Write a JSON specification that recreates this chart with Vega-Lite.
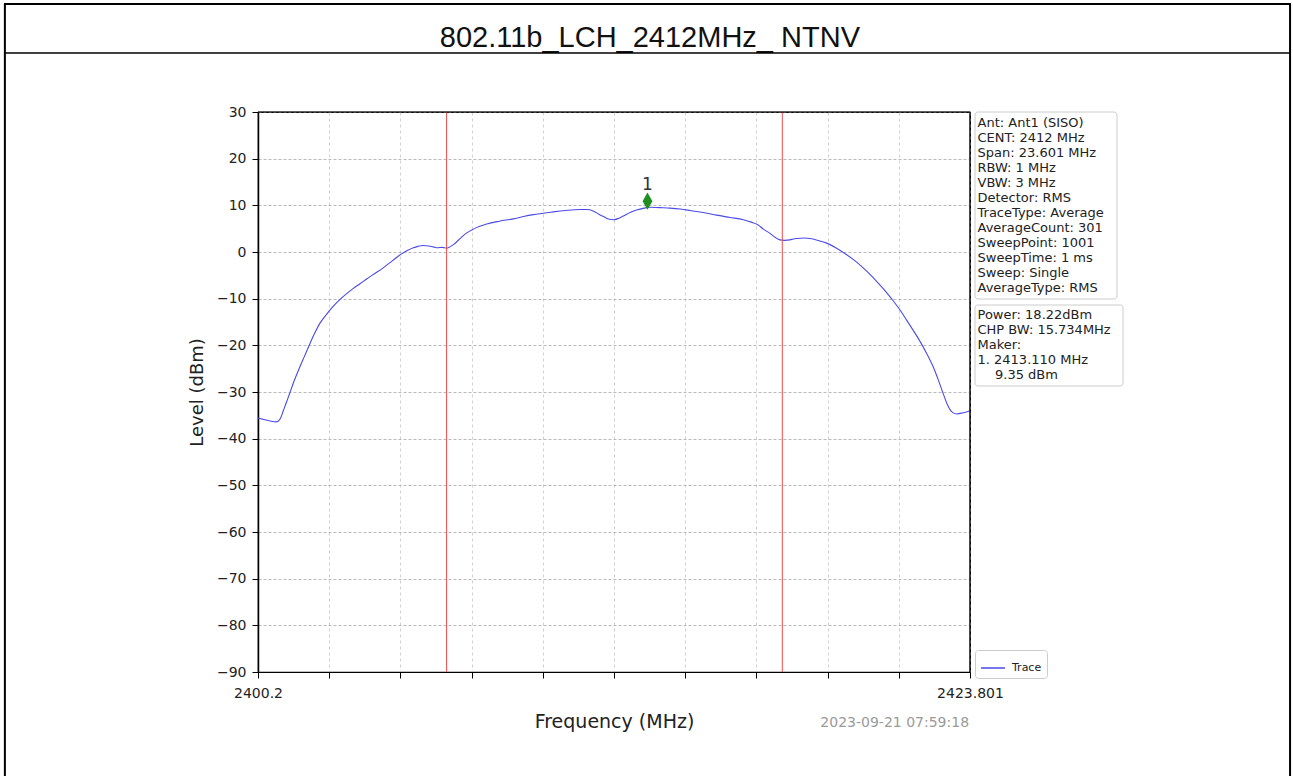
{
  "$schema": "https://vega.github.io/schema/vega-lite/v6.json",
  "autosize": {"type": "none"},
  "width": 712,
  "height": 560,
  "padding": {"left": 258, "top": 112, "right": 323, "bottom": 104},
  "background": "white",
  "data": {"values": [{}]},
  "config": {
    "view": {"stroke": "#000000", "strokeWidth": 1.2},
    "axis": {
      "labelFont": "DejaVu Sans",
      "titleFont": "DejaVu Sans",
      "labelColor": "#222222",
      "titleColor": "#222222",
      "titleFontWeight": "normal",
      "domainColor": "#000000",
      "tickColor": "#000000",
      "tickSize": 6
    }
  },
  "datasets": {
    "trace": [
      {"freq": 2400.20, "level": -35.6},
      {"freq": 2400.40, "level": -35.9},
      {"freq": 2400.60, "level": -36.2},
      {"freq": 2400.80, "level": -36.4},
      {"freq": 2400.93, "level": -35.8},
      {"freq": 2401.05, "level": -33.8},
      {"freq": 2401.15, "level": -32.1},
      {"freq": 2401.26, "level": -30.1},
      {"freq": 2401.40, "level": -27.6},
      {"freq": 2401.59, "level": -24.6},
      {"freq": 2401.75, "level": -22.2},
      {"freq": 2401.87, "level": -20.4},
      {"freq": 2402.05, "level": -17.8},
      {"freq": 2402.25, "level": -15.3},
      {"freq": 2402.42, "level": -13.8},
      {"freq": 2402.59, "level": -12.4},
      {"freq": 2402.80, "level": -10.9},
      {"freq": 2403.03, "level": -9.5},
      {"freq": 2403.20, "level": -8.6},
      {"freq": 2403.36, "level": -7.8},
      {"freq": 2403.58, "level": -6.8},
      {"freq": 2403.80, "level": -5.8},
      {"freq": 2404.05, "level": -4.7},
      {"freq": 2404.35, "level": -3.4},
      {"freq": 2404.65, "level": -1.9},
      {"freq": 2404.96, "level": -0.4},
      {"freq": 2405.15, "level": 0.3},
      {"freq": 2405.35, "level": 0.9},
      {"freq": 2405.50, "level": 1.2},
      {"freq": 2405.68, "level": 1.4},
      {"freq": 2405.85, "level": 1.3},
      {"freq": 2406.01, "level": 1.1},
      {"freq": 2406.15, "level": 0.9},
      {"freq": 2406.30, "level": 1.0},
      {"freq": 2406.45, "level": 0.8},
      {"freq": 2406.56, "level": 1.1},
      {"freq": 2406.70, "level": 1.7},
      {"freq": 2406.79, "level": 2.2},
      {"freq": 2406.95, "level": 3.2},
      {"freq": 2407.12, "level": 4.1},
      {"freq": 2407.34, "level": 4.9},
      {"freq": 2407.55, "level": 5.5},
      {"freq": 2407.78, "level": 6.0},
      {"freq": 2408.20, "level": 6.6},
      {"freq": 2408.66, "level": 7.1},
      {"freq": 2409.00, "level": 7.6},
      {"freq": 2409.33, "level": 8.0},
      {"freq": 2409.66, "level": 8.3},
      {"freq": 2409.99, "level": 8.6},
      {"freq": 2410.40, "level": 8.9},
      {"freq": 2410.87, "level": 9.1},
      {"freq": 2411.10, "level": 9.1},
      {"freq": 2411.31, "level": 8.8},
      {"freq": 2411.50, "level": 8.1},
      {"freq": 2411.65, "level": 7.6},
      {"freq": 2411.85, "level": 7.0},
      {"freq": 2411.98, "level": 6.9},
      {"freq": 2412.15, "level": 7.2},
      {"freq": 2412.31, "level": 7.7},
      {"freq": 2412.55, "level": 8.5},
      {"freq": 2412.75, "level": 9.0},
      {"freq": 2413.00, "level": 9.4},
      {"freq": 2413.19, "level": 9.6},
      {"freq": 2413.50, "level": 9.5},
      {"freq": 2413.86, "level": 9.4},
      {"freq": 2414.20, "level": 9.2},
      {"freq": 2414.52, "level": 8.9},
      {"freq": 2415.00, "level": 8.4},
      {"freq": 2415.40, "level": 7.9},
      {"freq": 2415.85, "level": 7.4},
      {"freq": 2416.29, "level": 6.9},
      {"freq": 2416.55, "level": 6.4},
      {"freq": 2416.78, "level": 5.8},
      {"freq": 2416.95, "level": 4.9},
      {"freq": 2417.17, "level": 4.0},
      {"freq": 2417.35, "level": 3.1},
      {"freq": 2417.50, "level": 2.6},
      {"freq": 2417.65, "level": 2.5},
      {"freq": 2417.83, "level": 2.6},
      {"freq": 2417.95, "level": 2.8},
      {"freq": 2418.06, "level": 2.9},
      {"freq": 2418.30, "level": 3.0},
      {"freq": 2418.50, "level": 2.9},
      {"freq": 2418.80, "level": 2.4},
      {"freq": 2419.05, "level": 1.9},
      {"freq": 2419.35, "level": 0.9},
      {"freq": 2419.60, "level": -0.1},
      {"freq": 2419.95, "level": -1.7},
      {"freq": 2420.26, "level": -3.4},
      {"freq": 2420.55, "level": -5.2},
      {"freq": 2420.82, "level": -7.1},
      {"freq": 2421.05, "level": -8.8},
      {"freq": 2421.26, "level": -10.5},
      {"freq": 2421.50, "level": -12.6},
      {"freq": 2421.70, "level": -14.6},
      {"freq": 2421.92, "level": -16.8},
      {"freq": 2422.14, "level": -19.1},
      {"freq": 2422.36, "level": -21.7},
      {"freq": 2422.58, "level": -24.6},
      {"freq": 2422.75, "level": -27.4},
      {"freq": 2422.91, "level": -30.3},
      {"freq": 2423.05, "level": -32.7},
      {"freq": 2423.19, "level": -34.2},
      {"freq": 2423.36, "level": -34.7},
      {"freq": 2423.55, "level": -34.5},
      {"freq": 2423.80, "level": -34.0}
    ],
    "edges": [
      {"freq": 2406.45},
      {"freq": 2417.58}
    ]
  },
  "layer": [
    {
      "data": {"name": "trace"},
      "mark": {"type": "line", "strokeWidth": 1.1, "interpolate": "monotone"},
      "encoding": {
        "x": {
          "field": "freq",
          "type": "quantitative",
          "scale": {"domain": [2400.2, 2423.801], "nice": false, "zero": false},
          "axis": {
            "title": "Frequency (MHz)",
            "titleFontSize": 19,
            "titleBaseline": "alphabetic",
            "titleY": 55,
            "titleX": 356,
            "values": [2400.2, 2402.5601, 2404.9202, 2407.2803, 2409.6404, 2412.0005, 2414.3606, 2416.7207, 2419.0808, 2421.4409, 2423.801],
            "labelExpr": "datum.value < 2400.3 ? '2400.2' : (datum.value > 2423.7 ? '2423.801' : '')",
            "labelFlush": false,
            "labelOverlap": false,
            "labelBound": false,
            "labelFontSize": 14,
            "labelPadding": 8,
            "grid": true,
            "gridColor": "#c4c4c4",
            "gridDash": [3, 3],
            "gridWidth": 0.8,
            "domainWidth": 1.2
          }
        },
        "y": {
          "field": "level",
          "type": "quantitative",
          "scale": {"domain": [-90, 30], "nice": false, "zero": false},
          "axis": {
            "title": "Level (dBm)",
            "titleFontSize": 18,
            "titleBaseline": "alphabetic",
            "titleAngle": 270,
            "titleAlign": "center",
            "titleX": -56,
            "titleY": 280,
            "values": [-90, -80, -70, -60, -50, -40, -30, -20, -10, 0, 10, 20, 30],
            "labelFontSize": 14,
            "labelPadding": 6,
            "grid": true,
            "gridColor": "#a8a8a8",
            "gridDash": [3, 2],
            "gridWidth": 0.8,
            "domainWidth": 1.5
          }
        },
        "color": {
          "datum": "Trace",
          "type": "nominal",
          "scale": {"range": ["#4a4ae6"]},
          "legend": {
            "title": null,
            "orient": "none",
            "legendX": 717,
            "legendY": 538,
            "padding": 5,
            "strokeColor": "#cccccc",
            "fillColor": "white",
            "cornerRadius": 3,
            "symbolType": "stroke",
            "symbolSize": 576,
            "symbolStrokeWidth": 1.5,
            "labelFont": "DejaVu Sans",
            "labelFontSize": 11,
            "labelColor": "#222222",
            "labelOffset": 6
          }
        }
      }
    },
    {
      "data": {"name": "edges"},
      "mark": {"type": "rule", "color": "#ee5a5a", "strokeWidth": 1.1},
      "encoding": {
        "x": {"field": "freq", "type": "quantitative"}
      }
    },
    {
      "mark": {"type": "rule", "color": "#000000", "strokeWidth": 1.2},
      "encoding": {
        "x": {"datum": 2423.801, "type": "quantitative"}
      }
    },
    {
      "mark": {"type": "rule", "color": "#000000", "strokeWidth": 1.2},
      "encoding": {
        "y": {"datum": 30, "type": "quantitative"}
      }
    },
    {
      "mark": {"type": "point", "shape": "M0,-1L0.57,0L0,1L-0.57,0Z", "size": 300, "filled": true, "color": "#1f8f1f", "opacity": 1},
      "encoding": {
        "x": {"datum": 2413.11, "type": "quantitative"},
        "y": {"datum": 10.9, "type": "quantitative"}
      }
    },
    {
      "mark": {"type": "text", "text": "1", "font": "DejaVu Sans", "fontSize": 17, "color": "#333333", "baseline": "alphabetic", "align": "center"},
      "encoding": {
        "x": {"datum": 2413.11, "type": "quantitative"},
        "y": {"datum": 13.3, "type": "quantitative"}
      }
    },
    {
      "mark": {"type": "rect", "fill": "white", "stroke": "#cccccc", "strokeWidth": 1, "cornerRadius": 3},
      "encoding": {
        "x": {"datum": 2423.967, "type": "quantitative"},
        "x2": {"datum": 2428.674},
        "y": {"datum": 30, "type": "quantitative"},
        "y2": {"datum": -10.07}
      }
    },
    {
      "mark": {"type": "rect", "fill": "white", "stroke": "#cccccc", "strokeWidth": 1, "cornerRadius": 3},
      "encoding": {
        "x": {"datum": 2423.967, "type": "quantitative"},
        "x2": {"datum": 2428.873},
        "y": {"datum": -11.36, "type": "quantitative"},
        "y2": {"datum": -28.71}
      }
    },
    {
      "mark": {
        "type": "text",
        "text": ["Ant: Ant1 (SISO)", "CENT: 2412 MHz", "Span: 23.601 MHz", "RBW: 1 MHz", "VBW: 3 MHz", "Detector: RMS", "TraceType: Average", "AverageCount: 301", "SweepPoint: 1001", "SweepTime: 1 ms", "Sweep: Single", "AverageType: RMS"],
        "font": "DejaVu Sans",
        "fontSize": 13,
        "lineHeight": 15,
        "color": "#222222",
        "align": "left",
        "baseline": "alphabetic"
      },
      "encoding": {
        "x": {"datum": 2424.05, "type": "quantitative"},
        "y": {"datum": 26.68, "type": "quantitative"}
      }
    },
    {
      "mark": {
        "type": "text",
        "text": ["Power: 18.22dBm", "CHP BW: 15.734MHz", "Maker:", "1. 2413.110 MHz"],
        "font": "DejaVu Sans",
        "fontSize": 13,
        "lineHeight": 15,
        "color": "#222222",
        "align": "left",
        "baseline": "alphabetic"
      },
      "encoding": {
        "x": {"datum": 2424.05, "type": "quantitative"},
        "y": {"datum": -14.36, "type": "quantitative"}
      }
    },
    {
      "mark": {"type": "text", "text": "9.35 dBm", "font": "DejaVu Sans", "fontSize": 13, "color": "#222222", "align": "left", "baseline": "alphabetic"},
      "encoding": {
        "x": {"datum": 2424.63, "type": "quantitative"},
        "y": {"datum": -27.22, "type": "quantitative"}
      }
    },
    {
      "mark": {"type": "text", "text": "2023-09-21 07:59:18", "font": "DejaVu Sans", "fontSize": 14, "color": "#9a9a9a", "align": "right", "baseline": "alphabetic"},
      "encoding": {
        "x": {"datum": 2423.77, "type": "quantitative"},
        "y": {"datum": -101.79, "type": "quantitative"}
      }
    },
    {
      "mark": {"type": "text", "text": "802.11b_LCH_2412MHz_ NTNV", "font": "Liberation Sans", "fontSize": 29, "color": "#111111", "align": "center", "baseline": "alphabetic"},
      "encoding": {
        "x": {"datum": 2413.19, "type": "quantitative"},
        "y": {"datum": 43.93, "type": "quantitative"}
      }
    },
    {
      "mark": {"type": "rule", "color": "#000000", "strokeWidth": 2},
      "encoding": {
        "x": {"datum": 2391.78, "type": "quantitative"},
        "x2": {"datum": 2434.44},
        "y": {"datum": 53.14, "type": "quantitative"}
      }
    },
    {
      "mark": {"type": "rule", "color": "#000000", "strokeWidth": 1.6},
      "encoding": {
        "x": {"datum": 2391.78, "type": "quantitative"},
        "x2": {"datum": 2434.44},
        "y": {"datum": 42.64, "type": "quantitative"}
      }
    },
    {
      "mark": {"type": "rule", "color": "#000000", "strokeWidth": 2},
      "encoding": {
        "x": {"datum": 2391.81, "type": "quantitative"},
        "y": {"datum": 53.14, "type": "quantitative"},
        "y2": {"datum": -112.3}
      }
    },
    {
      "mark": {"type": "rule", "color": "#000000", "strokeWidth": 2},
      "encoding": {
        "x": {"datum": 2434.41, "type": "quantitative"},
        "y": {"datum": 53.14, "type": "quantitative"},
        "y2": {"datum": -112.3}
      }
    }
  ]
}
